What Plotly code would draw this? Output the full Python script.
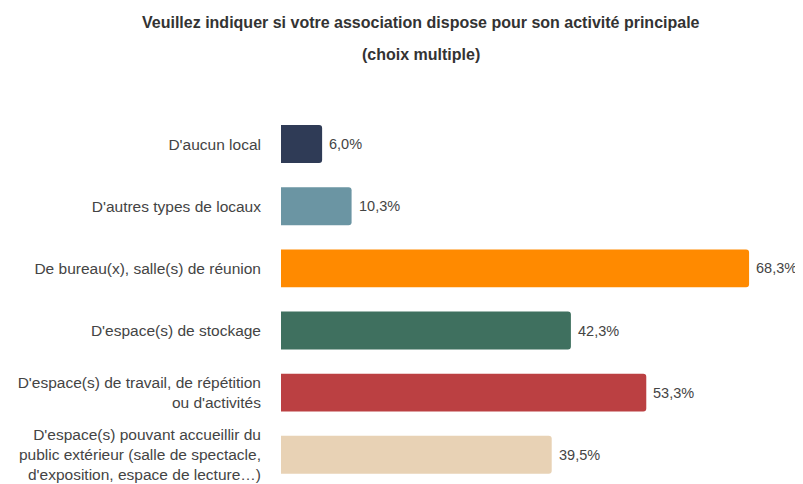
import plotly.graph_objects as go

categories = [
    "D'aucun local",
    "D'autres types de locaux",
    "De bureau(x), salle(s) de réunion",
    "D'espace(s) de stockage",
    "D'espace(s) de travail, de répétition<br>ou d'activités",
    "D'espace(s) pouvant accueillir du<br>public extérieur (salle de spectacle,<br>d'exposition, espace de lecture…)",
]
values = [6.0, 10.3, 68.3, 42.3, 53.3, 39.5]
colors = ["#2f3b56", "#6b95a3", "#ff8a00", "#3f705f", "#bb4042", "#e8d2b5"]
title_line1 = "Veuillez indiquer si votre association dispose pour son activité principale"
title_line2 = "(choix multiple)"

labels = [f"{v:.1f}%".replace(".", ",") for v in values]

FONT = "Liberation Sans, Arial, sans-serif"
W, H = 795, 476          # page body has an 8px margin
L, T, R, B = 273, 105, 8, 0

fig = go.Figure(go.Bar(
    x=values,
    y=categories,
    orientation="h",
    marker=dict(color=colors, cornerradius=3, line=dict(width=0)),
    width=0.61,
    hoverinfo="skip",
))

anns = []
for c, v, t in zip(categories, values, labels):
    anns.append(dict(x=v, y=c, xref="x", yref="y", text=t, showarrow=False,
                     xanchor="left", yanchor="middle", xshift=5,
                     font=dict(size=14.5, color="#444444", family=FONT)))

w_plot = W - L - R
h_plot = H - T - B
for txt, ypx in [(title_line1, 14), (title_line2, 47)]:
    anns.append(dict(text=f"<b>{txt}</b>", xref="paper", yref="paper",
                     x=(413 - L) / w_plot, y=(H - ypx - B) / h_plot,
                     xanchor="center", yanchor="middle", showarrow=False,
                     font=dict(size=16, color="#333333", family=FONT)))

fig.update_layout(
    width=W, height=H,
    margin=dict(l=L, r=R, t=T, b=B, autoexpand=False),
    paper_bgcolor="white", plot_bgcolor="white",
    font=dict(family=FONT, size=15.5, color="#444444"),
    showlegend=False,
    xaxis=dict(range=[0, 75], visible=False, fixedrange=True),
    yaxis=dict(
        type="category",
        range=[5.47, -0.5],
        showgrid=False, zeroline=False, showline=False,
        ticks="", ticklabelstandoff=19, automargin=False,
        tickfont=dict(size=15.5, color="#444444", family=FONT),
    ),
    annotations=anns,
)

fig.write_html("out.html")
